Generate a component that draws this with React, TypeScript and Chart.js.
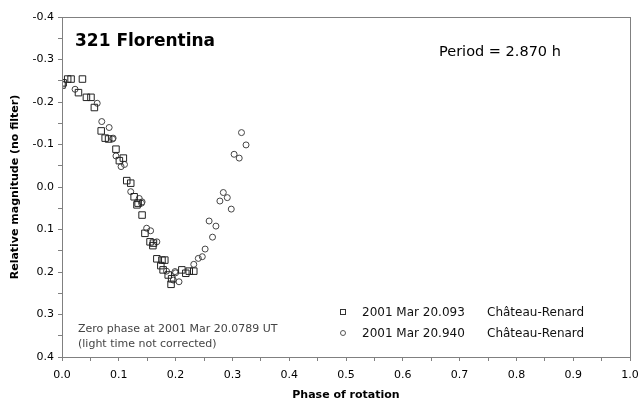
import React, { useEffect, useRef } from "react";
import { Chart, registerables } from "chart.js";

Chart.register(...registerables);

const phase1 = [0.0, 0.002, 0.010, 0.016, 0.036, 0.029, 0.043, 0.051, 0.057, 0.069, 0.076, 0.082, 0.095, 0.101, 0.108, 0.114, 0.121, 0.127, 0.134, 0.132, 0.141, 0.146, 0.155, 0.161, 0.160, 0.167, 0.176, 0.181, 0.174, 0.178, 0.187, 0.193, 0.192, 0.211, 0.218, 0.224, 0.232];
const mag1 = [-0.240, -0.245, -0.254, -0.254, -0.254, -0.222, -0.211, -0.211, -0.187, -0.132, -0.115, -0.113, -0.089, -0.062, -0.068, -0.015, -0.009, 0.023, 0.038, 0.042, 0.066, 0.109, 0.129, 0.132, 0.138, 0.169, 0.172, 0.172, 0.185, 0.195, 0.207, 0.216, 0.229, 0.195, 0.203, 0.198, 0.198];

const phase2 = [0.023, 0.062, 0.070, 0.083, 0.090, 0.089, 0.095, 0.110, 0.104, 0.121, 0.136, 0.141, 0.140, 0.149, 0.156, 0.167, 0.184, 0.199, 0.196, 0.206, 0.200, 0.232, 0.240, 0.247, 0.252, 0.259, 0.265, 0.271, 0.278, 0.284, 0.291, 0.298, 0.303, 0.312, 0.316, 0.324];
const mag2 = [-0.230, -0.197, -0.154, -0.140, -0.115, -0.113, -0.073, -0.053, -0.048, 0.011, 0.027, 0.035, 0.038, 0.097, 0.103, 0.129, 0.198, 0.199, 0.219, 0.223, 0.202, 0.182, 0.168, 0.164, 0.146, 0.080, 0.118, 0.092, 0.033, 0.013, 0.025, 0.052, -0.077, -0.068, -0.128, -0.099];

const seriesLabels = ["2001 Mar 20.093", "2001 Mar 20.940"];
const observatories = ["Château-Renard", "Château-Renard"];
const chartTitle = "321 Florentina";
const periodText = "Period = 2.870 h";
const noteLines = ["Zero phase at 2001 Mar 20.0789 UT", "(light time not corrected)"];

const FONT = "'DejaVu Sans', Verdana, sans-serif";

const annotations = {
  id: "annotations",
  afterDraw(chart: any) {
    const { ctx, chartArea } = chart;
    const { left, top, right, bottom } = chartArea;
    ctx.save();
    ctx.strokeStyle = "#808080";
    ctx.lineWidth = 1;
    ctx.strokeRect(Math.round(left) + 0.5, Math.round(top) + 0.5, Math.round(right - left), Math.round(bottom - top));

    ctx.fillStyle = "#000";
    ctx.textBaseline = "alphabetic";
    ctx.textAlign = "left";
    ctx.font = `bold 17px ${FONT}`;
    ctx.fillText(chartTitle, 75, 46);
    ctx.font = `14.5px ${FONT}`;
    ctx.fillText(periodText, 439, 56);

    ctx.fillStyle = "#444";
    ctx.font = `11px ${FONT}`;
    ctx.fillText(noteLines[0], 78, 332);
    ctx.fillText(noteLines[1], 78, 347);

    ctx.fillStyle = "#111";
    ctx.font = `12px ${FONT}`;
    const rows = [312, 333];
    rows.forEach((y, i) => {
      ctx.fillText(seriesLabels[i], 362, y + 4);
      ctx.fillText(observatories[i], 487, y + 4);
    });
    ctx.strokeStyle = "#333";
    ctx.lineWidth = 1;
    ctx.strokeRect(340.5, 309.5, 5, 5);
    ctx.strokeStyle = "#555";
    ctx.beginPath();
    ctx.arc(343, 333, 2.5, 0, Math.PI * 2);
    ctx.stroke();
    ctx.restore();
  },
};

export default function App() {
  const ref = useRef<HTMLCanvasElement>(null);
  useEffect(() => {
    if (!ref.current) return;
    const chart = new Chart(ref.current, {
      type: "scatter",
      data: {
        datasets: [
          {
            label: seriesLabels[0],
            data: phase1.map((p, i) => ({ x: p, y: mag1[i] })),
            pointStyle: "rect",
            pointRadius: 4.6,
            borderColor: "#222",
            backgroundColor: "rgba(255,255,255,0)",
            borderWidth: 1,
          },
          {
            label: seriesLabels[1],
            data: phase2.map((p, i) => ({ x: p, y: mag2[i] })),
            pointStyle: "circle",
            pointRadius: 3,
            borderColor: "#444",
            backgroundColor: "rgba(255,255,255,0)",
            borderWidth: 1,
          },
        ],
      },
      options: {
        responsive: false,
        animation: false,
        events: [],
        layout: { padding: { left: 0, top: 17, right: 10, bottom: 0 } },
        plugins: { legend: { display: false }, tooltip: { enabled: false } },
        scales: {
          x: {
            type: "linear",
            min: 0,
            max: 1,
            afterFit: (s: any) => { s.height = 45; s.paddingRight = 0; s.paddingLeft = 0; },
            border: { display: false },
            grid: { drawOnChartArea: false, drawTicks: true, tickLength: 4, color: "#808080" },
            ticks: {
              stepSize: 0.05,
              autoSkip: false,
              maxRotation: 0,
              padding: 8,
              color: "#000",
              font: { family: FONT, size: 11 },
              callback: (v: any) => (Math.round(v * 100) % 10 === 0 ? Number(v).toFixed(1) : ""),
            },
            title: {
              display: true,
              text: "Phase of rotation",
              color: "#000",
              font: { family: FONT, size: 11, weight: "bold" },
              padding: { top: 2, bottom: 0 },
            },
          },
          y: {
            type: "linear",
            reverse: true,
            min: -0.4,
            max: 0.4,
            afterFit: (s: any) => { s.width = 62; s.paddingTop = 0; s.paddingBottom = 0; },
            border: { display: false },
            grid: { drawOnChartArea: false, drawTicks: true, tickLength: 4, color: "#808080" },
            ticks: {
              stepSize: 0.05,
              autoSkip: false,
              padding: 4,
              color: "#000",
              font: { family: FONT, size: 11 },
              callback: (v: any) => (Math.round(v * 100) % 10 === 0 ? Number(v).toFixed(1) : ""),
            },
            title: {
              display: true,
              text: "Relative magnitude (no filter)",
              color: "#000",
              font: { family: FONT, size: 11, weight: "bold" },
              padding: { top: 9, bottom: 0 },
            },
          },
        },
      },
      plugins: [annotations],
    });
    return () => chart.destroy();
  }, []);
  return (
    <div style={{ position: "fixed", left: 0, top: 0, width: 640, height: 402, background: "#fff" }}>
      <canvas ref={ref} width={640} height={402} />
    </div>
  );
}
